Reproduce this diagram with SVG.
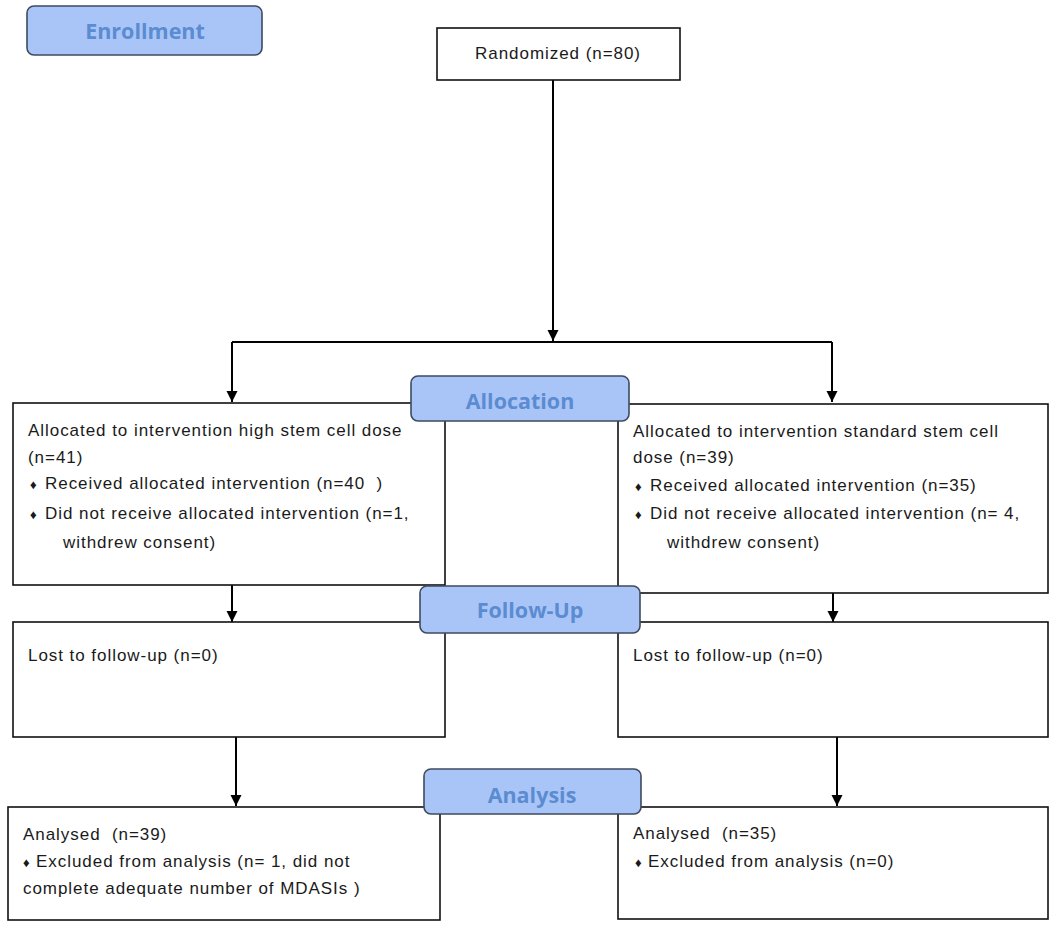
<svg xmlns="http://www.w3.org/2000/svg" width="1050" height="928" viewBox="0 0 1050 928">
<defs>
<marker id="arr" markerWidth="14" markerHeight="14" refX="11" refY="5.5" orient="auto" markerUnits="userSpaceOnUse">
<path d="M0,0 L11,5.5 L0,11 Z" fill="#000"/>
</marker>
<style>
.box{fill:#fff;stroke:#111;stroke-width:1.6}
.lab{fill:#a9c5f8;stroke:#3f4a5e;stroke-width:1.6}
.labt{font-family:"Open Sans","Liberation Sans",sans-serif;font-weight:bold;font-size:21.5px;fill:#5b8bd0;text-anchor:middle}
.t{font-family:"Liberation Sans",Arial,sans-serif;font-size:17px;letter-spacing:0.95px;fill:#1a1a1a}
.b{font-size:13px;letter-spacing:0}
.c{fill:none;stroke:#000;stroke-width:2}
</style>
</defs>
<rect width="1050" height="928" fill="#fff"/>
<g id="connectors">
<path class="c" d="M553,80 V341" marker-end="url(#arr)"/>
<path class="c" d="M232,342 H832"/>
<path class="c" d="M232,342 V402" marker-end="url(#arr)"/>
<path class="c" d="M832,342 V402" marker-end="url(#arr)"/>
<path class="c" d="M232,548 V622" marker-end="url(#arr)"/>
<path class="c" d="M833,552 V622" marker-end="url(#arr)"/>
<path class="c" d="M236,737 V806" marker-end="url(#arr)"/>
<path class="c" d="M837,737 V806" marker-end="url(#arr)"/>
</g>
<g id="randomized">
<rect class="box" x="437" y="28" width="243" height="52"/>
<text class="t" x="558" y="59" text-anchor="middle">Randomized (n=80)</text>
</g>
<g id="alloc-left">
<rect class="box" x="13" y="403" width="432" height="182"/>
<text class="t" x="28" y="436">Allocated to intervention high stem cell dose</text>
<text class="t" x="28" y="463">(n=41)</text>
<text class="t" x="30" y="489"><tspan class="b">♦</tspan><tspan x="45">Received allocated intervention (n=40&#160;&#160;)</tspan></text>
<text class="t" x="30" y="519"><tspan class="b">♦</tspan><tspan x="45">Did not receive allocated intervention (n=1,</tspan></text>
<text class="t" x="63" y="548">withdrew consent)</text>
</g>
<g id="alloc-right">
<rect class="box" x="618" y="404" width="430" height="189"/>
<text class="t" x="633" y="437">Allocated to intervention standard stem cell</text>
<text class="t" x="633" y="463">dose (n=39)</text>
<text class="t" x="635" y="491"><tspan class="b">♦</tspan><tspan x="650">Received allocated intervention (n=35)</tspan></text>
<text class="t" x="635" y="519"><tspan class="b">♦</tspan><tspan x="650">Did not receive allocated intervention (n= 4,</tspan></text>
<text class="t" x="667" y="548">withdrew consent)</text>
</g>
<g id="follow-left">
<rect class="box" x="13" y="622" width="432" height="115"/>
<text class="t" x="28" y="661">Lost to follow-up (n=0)</text>
</g>
<g id="follow-right">
<rect class="box" x="618" y="622" width="430" height="115"/>
<text class="t" x="633" y="661">Lost to follow-up (n=0)</text>
</g>
<g id="analysis-left">
<rect class="box" x="8" y="807" width="432" height="113"/>
<text class="t" x="23" y="840">Analysed&#160;&#160;(n=39)</text>
<text class="t" x="23" y="867"><tspan class="b">♦</tspan><tspan x="36">Excluded from analysis (n= 1, did not</tspan></text>
<text class="t" x="23" y="894">complete adequate number of MDASIs )</text>
</g>
<g id="analysis-right">
<rect class="box" x="618" y="807" width="430" height="112"/>
<text class="t" x="633" y="839">Analysed&#160;&#160;(n=35)</text>
<text class="t" x="635" y="867"><tspan class="b">♦</tspan><tspan x="648">Excluded from analysis (n=0)</tspan></text>
</g>
<g id="enrollment">
<rect class="lab" x="27" y="6" width="235" height="49" rx="7"/>
<text class="labt" x="145" y="39">Enrollment</text>
</g>
<g id="allocation">
<rect class="lab" x="411" y="376" width="218" height="45" rx="7"/>
<text class="labt" x="520" y="409">Allocation</text>
</g>
<g id="followup">
<rect class="lab" x="420" y="586" width="220" height="47" rx="7"/>
<text class="labt" x="530" y="618">Follow-Up</text>
</g>
<g id="analysis">
<rect class="lab" x="424" y="769" width="217" height="45" rx="7"/>
<text class="labt" x="532" y="803">Analysis</text>
</g>
</svg>
